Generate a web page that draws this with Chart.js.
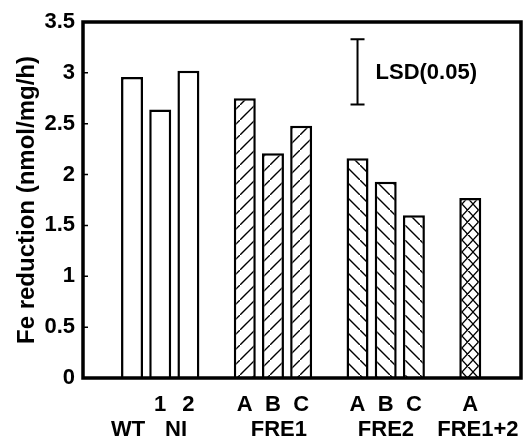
<!DOCTYPE html>
<html>
<head>
<meta charset="utf-8">
<script src="https://cdn.jsdelivr.net/npm/chart.js@4"></script>
<style>
  html, body { margin: 0; padding: 0; background: #fff; }
  #wrap { width: 523px; height: 444px; }
</style>
</head>
<body>
<div id="wrap"><canvas id="myChart" width="523" height="444"></canvas></div>
<script>
// values
const barSlots = [0, 1, 2, 4, 5, 6, 8, 9, 10, 12];
const tickNames = ['', '1', '2', 'A', 'B', 'C', 'A', 'B', 'C', 'A'];
const feReduction = [2.96, 2.64, 3.02, 2.75, 2.21, 2.48, 2.16, 1.93, 1.60, 1.77];
const fillKind = ['open', 'open', 'open', 'fwd', 'fwd', 'fwd', 'back', 'back', 'back', 'cross'];
const groupNames = ['WT', 'NI', 'FRE1', 'FRE2', 'FRE1+2'];
const groupAt = [-0.14, 1.56, 5.21, 9.01, 12.27];
const lsdRange = [2.69, 3.33];
const lsdSlot = 8;
const yTicks = [0, 0.5, 1, 1.5, 2, 2.5, 3, 3.5];

const FONT = "'Liberation Sans', Arial, sans-serif";

function hatch(kind) {
    const c = document.createElement('canvas');
    const s = kind === 'cross' ? 11 : 15;
    c.width = s; c.height = kind === 'cross' ? 12 : s;
    const h = c.height;
    const g = c.getContext('2d');
    g.fillStyle = '#fff';
    g.fillRect(0, 0, s, h);
    g.strokeStyle = '#000';
    g.lineWidth = 1.4;
    g.beginPath();
    if (kind === 'fwd' || kind === 'cross') {
        g.moveTo(-1, h + 1); g.lineTo(s + 1, -1);
        g.moveTo(-2, 1); g.lineTo(1, -2);
        g.moveTo(s - 1, h + 2); g.lineTo(s + 2, h - 1);
    }
    if (kind === 'back' || kind === 'cross') {
        g.moveTo(-1, -1); g.lineTo(s + 1, h + 1);
        g.moveTo(s - 1, -2); g.lineTo(s + 2, 1);
        g.moveTo(-2, h - 1); g.lineTo(1, h + 2);
    }
    g.stroke();
    return g.createPattern(c, 'repeat');
}

const fills = fillKind.map(k => k === 'open' ? '#fff' : hatch(k));

const extras = {
    id: 'extras',
    afterDatasetsDraw(chart) {
        const { ctx, chartArea: a, scales: { x, y } } = chart;
        ctx.save();
        ctx.strokeStyle = '#000';
        // small inward ticks on the y axis
        ctx.lineWidth = 1.5;
        ctx.beginPath();
        yTicks.forEach(v => {
            const py = y.getPixelForValue(v);
            ctx.moveTo(a.left, py); ctx.lineTo(a.left + 5, py);
        });
        ctx.stroke();
        // frame
        ctx.lineWidth = 3.5;
        ctx.strokeRect(a.left, a.top, a.right - a.left, a.bottom - a.top);
        // LSD bar
        const lx = x.getPixelForValue(lsdSlot);
        const t = y.getPixelForValue(lsdRange[1]);
        const b = y.getPixelForValue(lsdRange[0]);
        ctx.lineWidth = 2;
        ctx.beginPath();
        ctx.moveTo(lx, t); ctx.lineTo(lx, b);
        ctx.moveTo(lx - 7, t); ctx.lineTo(lx + 7, t);
        ctx.moveTo(lx - 7, b); ctx.lineTo(lx + 7, b);
        ctx.stroke();
        ctx.fillStyle = '#000';
        ctx.font = 'bold 22px ' + FONT;
        ctx.textAlign = 'left';
        ctx.textBaseline = 'middle';
        ctx.fillText('LSD(0.05)', lx + 18, (t + b) / 2 + 1);
        // group names under the tick labels
        ctx.textAlign = 'center';
        groupNames.forEach((name, i) => {
            ctx.fillText(name, x.getPixelForValue(groupAt[i]), 430);
        });
        ctx.restore();
    }
};

const ctx = document.getElementById('myChart').getContext('2d');
new Chart(ctx, {
    type: 'bar',
    data: {
        datasets: [{
            data: barSlots.map((s, i) => ({ x: s, y: feReduction[i] })),
            backgroundColor: fills,
            borderColor: '#000',
            borderWidth: 2.5,
            barPercentage: 0.78,
            categoryPercentage: 1
        }]
    },
    options: {
        responsive: false,
        animation: false,
        layout: { padding: { top: 22, right: 2, bottom: 0, left: 0 } },
        plugins: { legend: { display: false }, tooltip: { enabled: false } },
        scales: {
            x: {
                type: 'linear',
                offset: false,
                min: -1.74,
                max: 13.8,
                grid: { display: false, offset: false },
                border: { display: false },
                afterBuildTicks: scale => { scale.ticks = barSlots.map(v => ({ value: v })); },
                afterFit: scale => { scale.height = 66; },
                ticks: {
                    autoSkip: false,
                    maxRotation: 0,
                    padding: 6,
                    color: '#000',
                    font: { family: FONT, size: 22, weight: 'bold' },
                    callback: (v, i) => tickNames[i]
                }
            },
            y: {
                min: 0,
                max: 3.5,
                grid: { display: false },
                border: { display: false },
                afterFit: scale => { scale.width = 83; },
                ticks: {
                    stepSize: 0.5,
                    padding: 0,
                    color: '#000',
                    font: { family: FONT, size: 22, weight: 'bold' },
                    callback: v => String(v)
                },
                title: {
                    display: true,
                    text: 'Fe reduction (nmol/mg/h)',
                    color: '#000',
                    padding: { top: 13, bottom: 0 },
                    font: { family: FONT, size: 24, weight: 'bold' }
                }
            }
        }
    },
    plugins: [extras]
});
</script>
</body>
</html>
